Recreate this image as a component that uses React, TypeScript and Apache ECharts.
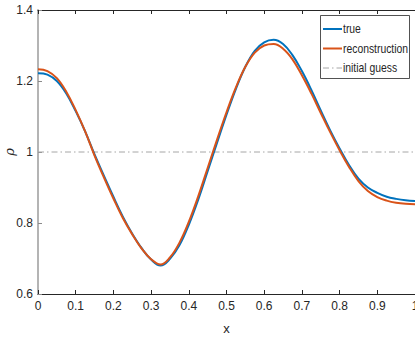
import React, { useEffect, useRef } from "react";
import * as echarts from "echarts";

const xs = [0, 0.025, 0.05, 0.075, 0.1, 0.125, 0.15, 0.175, 0.2, 0.225, 0.25, 0.275, 0.3, 0.325, 0.35, 0.375, 0.4, 0.425, 0.45, 0.475, 0.5, 0.525, 0.55, 0.575, 0.6, 0.625, 0.65, 0.675, 0.7, 0.725, 0.75, 0.775, 0.8, 0.825, 0.85, 0.875, 0.9, 0.925, 0.95, 0.975, 1.0];
const trueVals = [1.222, 1.218, 1.2, 1.165, 1.115, 1.058, 0.993, 0.933, 0.874, 0.818, 0.77, 0.729, 0.697, 0.68, 0.699, 0.737, 0.795, 0.866, 0.946, 1.026, 1.105, 1.178, 1.24, 1.285, 1.309, 1.316, 1.304, 1.273, 1.228, 1.175, 1.117, 1.061, 1.01, 0.963, 0.925, 0.9, 0.885, 0.874, 0.868, 0.864, 0.862];
const reconVals = [1.233, 1.228, 1.208, 1.17, 1.118, 1.058, 0.99, 0.928, 0.869, 0.814, 0.768, 0.728, 0.698, 0.683, 0.703, 0.744, 0.803, 0.875, 0.955, 1.035, 1.112, 1.182, 1.24, 1.28, 1.3, 1.304, 1.291, 1.261, 1.216, 1.165, 1.11, 1.056, 1.005, 0.958, 0.918, 0.89, 0.873, 0.863, 0.857, 0.854, 0.853];
const guessX = [0, 1];
const guessVals = [1, 1];
const seriesNames = ["true", "reconstruction", "initial guess"];
const seriesColors = ["#0072BD", "#D95319", "#a6a6a6"];

const FONT = "'Liberation Sans', Arial, sans-serif";
const TXT = "#262626";
const GUESS_DASH = [6, 3, 1.5, 3];

export default function App() {
  const ref = useRef<HTMLDivElement>(null);
  useEffect(() => {
    const chart = echarts.init(ref.current!, undefined, { renderer: "svg" });
    const legendItems: any[] = [];
    seriesNames.forEach((name, i) => {
      const cy = 29 + i * 19.5;
      legendItems.push({
        type: "line",
        shape: { x1: 323, y1: cy, x2: 342, y2: cy },
        style: {
          stroke: seriesColors[i],
          lineWidth: i < 2 ? 2 : 1,
          lineDash: i === 2 ? GUESS_DASH : null,
        },
        z: 101,
      });
      legendItems.push({
        type: "text",
        x: 343,
        y: cy,
        scaleX: 0.83,
        style: {
          text: name,
          fill: TXT,
          font: `12.5px ${FONT}`,
          textVerticalAlign: "middle",
          verticalAlign: "middle",
          align: "left",
        },
        z: 101,
      });
    });
    chart.setOption({
      animation: false,
      textStyle: { fontFamily: FONT },
      grid: { left: 38, top: 10, width: 377, height: 284, containLabel: false, outerBoundsMode: "none" },
      graphic: [
        {
          type: "rect",
          shape: { x: 320.5, y: 15.5, width: 89, height: 63 },
          style: { fill: "#fff", stroke: TXT, lineWidth: 0.8 },
          z: 100,
        },
        ...legendItems,
      ],
      xAxis: [
        {
          type: "value",
          min: 0,
          max: 1,
          interval: 0.1,
          position: "bottom",
          axisLine: { lineStyle: { color: TXT, width: 1 } },
          axisTick: { inside: true, length: 4, lineStyle: { color: TXT } },
          axisLabel: { color: TXT, fontSize: 12, fontFamily: FONT, margin: 6, formatter: (v: number) => String(Math.round(v * 10) / 10) },
          splitLine: { show: false },
          name: "x",
          nameLocation: "middle",
          nameGap: 28,
          nameMoveOverlap: false,
          nameTextStyle: { color: TXT, fontSize: 13, fontFamily: FONT },
        },
        {
          type: "value",
          min: 0,
          max: 1,
          interval: 0.1,
          position: "top",
          axisLine: { lineStyle: { color: TXT, width: 1 } },
          axisTick: { inside: true, length: 4, lineStyle: { color: TXT } },
          axisLabel: { show: false },
          splitLine: { show: false },
        },
      ],
      yAxis: {
        type: "value",
        min: 0.6,
        max: 1.4,
        interval: 0.2,
        axisLine: { show: true, lineStyle: { color: "#b4b4b4", width: 2 } },
        axisTick: { show: true, inside: true, length: 4, lineStyle: { color: "#8a8a8a" } },
        axisLabel: { color: TXT, fontSize: 12, fontFamily: FONT, margin: 5, formatter: (v: number) => String(Math.round(v * 10) / 10) },
        splitLine: { show: false },
        name: "ρ",
        nameLocation: "middle",
        nameGap: 22,
        nameMoveOverlap: false,
        nameTextStyle: { color: TXT, fontSize: 13, fontStyle: "italic", fontFamily: "'DejaVu Serif', serif" },
      },
      series: [
        {
          name: seriesNames[2],
          type: "line",
          data: guessX.map((x, i) => [x, guessVals[i]]),
          symbol: "none",
          color: seriesColors[2],
          lineStyle: { color: seriesColors[2], width: 1, type: GUESS_DASH },
          z: 1,
        },
        {
          name: seriesNames[0],
          type: "line",
          data: xs.map((x, i) => [x, trueVals[i]]),
          smooth: 0.4,
          symbol: "none",
          color: seriesColors[0],
          lineStyle: { color: seriesColors[0], width: 2 },
          z: 2,
        },
        {
          name: seriesNames[1],
          type: "line",
          data: xs.map((x, i) => [x, reconVals[i]]),
          smooth: 0.4,
          symbol: "none",
          color: seriesColors[1],
          lineStyle: { color: seriesColors[1], width: 2 },
          z: 3,
        },
      ],
    });
    return () => chart.dispose();
  }, []);
  return <div ref={ref} style={{ position: "fixed", left: 0, top: 0, width: 415, height: 344, background: "#fff" }} />;
}
